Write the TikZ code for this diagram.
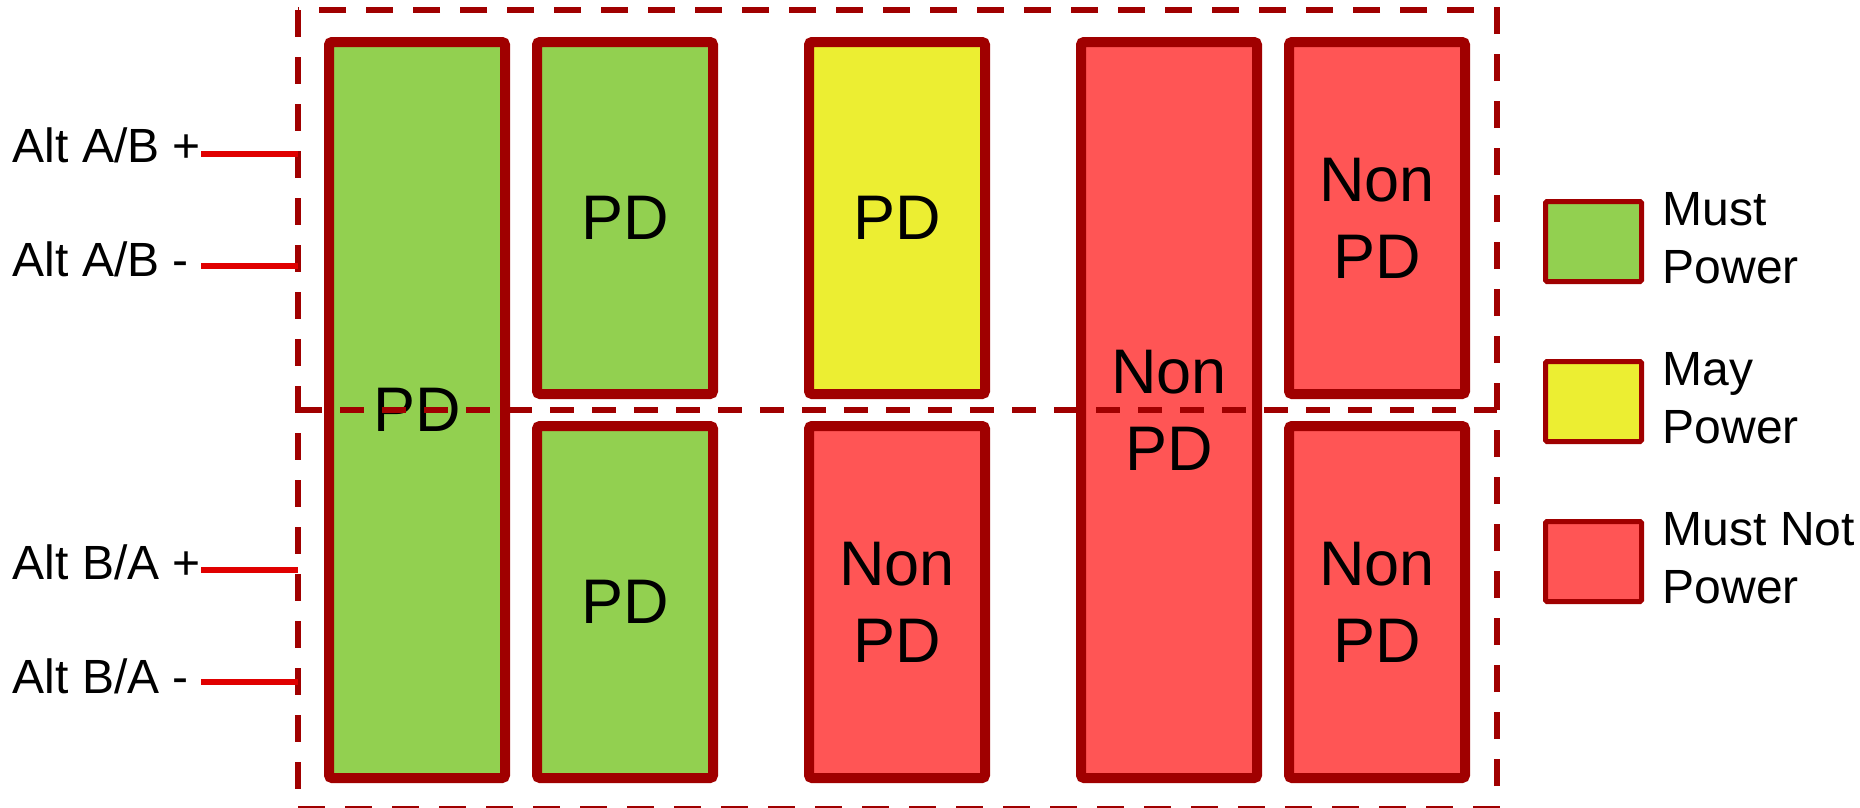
\documentclass[tikz,border=0pt]{standalone}
\usepackage{fontspec}
\setmainfont{Liberation Sans}
\definecolor{frame}{RGB}{160,0,0}
\definecolor{wire}{RGB}{224,0,0}
\definecolor{mustfill}{RGB}{146,208,80}
\definecolor{mayfill}{RGB}{236,238,50}
\definecolor{notfill}{RGB}{255,85,85}
\begin{document}
\begin{tikzpicture}[x=1pt,y=-1pt,
  box/.style={draw=frame, line width=10pt, rounded corners=3pt, inner sep=0pt,
    minimum width=176pt, align=center, font=\fontsize{63}{77}\selectfont},
  fullbox/.style={box, minimum height=736pt},
  halfbox/.style={box, minimum height=352pt},
  legbox/.style={draw=frame, line width=5pt, rounded corners=1.5pt,
    minimum width=96pt, minimum height=80pt, inner sep=0pt},
  lbl/.style={font=\fontsize{48}{58}\selectfont, inner sep=0pt, anchor=base west},
  legtxt/.style={font=\fontsize{48}{58}\selectfont, inner sep=0pt, anchor=west, align=left},
  wireline/.style={draw=wire, line width=6pt},
  zone/.style={draw=frame, line width=6pt, dash pattern=on 27pt off 20pt},
  split/.style={draw=frame, line width=6pt, dash pattern=on 24pt off 18pt}]
\useasboundingbox (0,0) rectangle (1860,807);

% device boxes
\node[fullbox, fill=mustfill] (c1) at (417,410) {PD};
\node[halfbox, fill=mustfill] (c2t) at (625,218) {PD};
\node[halfbox, fill=mustfill] (c2b) at (625,602) {PD};
\node[halfbox, fill=mayfill] (c3t) at (897,218) {PD};
\node[halfbox, fill=notfill] (c3b) at (897,602) {Non\\PD};
\node[fullbox, fill=notfill] (c4) at (1169,410) {Non\\PD};
\node[halfbox, fill=notfill] (c5t) at (1377,218) {Non\\PD};
\node[halfbox, fill=notfill] (c5b) at (1377,602) {Non\\PD};

% dashed zones
\draw[zone] (298,10) rectangle (1497,809);
\draw[split] (298,409.5) -- (1497,409.5);

% pair labels and wires
\node[lbl] (l1) at (12.5,162.3) {Alt A/B +};
\node[lbl] (l2) at (12.5,276.7) {Alt A/B -};
\node[lbl] (l3) at (12.5,579.3) {Alt B/A +};
\node[lbl] (l4) at (12.5,693.3) {Alt B/A -};
\coordinate (s1) at (201,154);   \coordinate (e1) at (298,154);
\coordinate (s2) at (201,266);   \coordinate (e2) at (298,266);
\coordinate (s3) at (201,570);   \coordinate (e3) at (298,570);
\coordinate (s4) at (201,682);   \coordinate (e4) at (298,682);
\draw[wireline] (s1) -- (e1);
\draw[wireline] (s2) -- (e2);
\draw[wireline] (s3) -- (e3);
\draw[wireline] (s4) -- (e4);

% legend
\node[legbox, fill=mustfill] (g1) at (1593.5,241.5) {};
\node[legbox, fill=mayfill] (g2) at (1593.5,401.5) {};
\node[legbox, fill=notfill] (g3) at (1593.5,561.5) {};
\node[legtxt] (t1) at (1662.5,238) {Must\\Power};
\node[legtxt] (t2) at (1662.5,398) {May\\Power};
\node[legtxt] (t3) at (1662.5,558) {Must Not\\Power};
\end{tikzpicture}
\end{document}
